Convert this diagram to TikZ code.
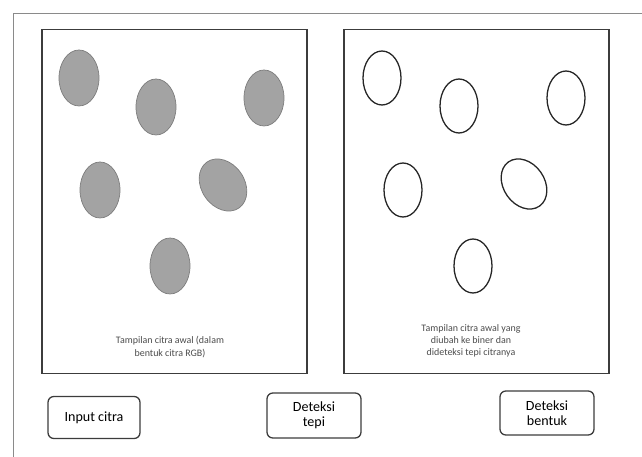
\documentclass[tikz,border=0pt]{standalone}
\usepackage{fontspec}
\setmainfont{Carlito}
\usepackage{xcolor}
\usetikzlibrary{positioning}
\definecolor{Blob}{HTML}{A3A3A3}
\definecolor{BlobEdge}{HTML}{7C7C7C}
\definecolor{Frame}{HTML}{8A8A8A}
\definecolor{Panel}{HTML}{3C3C3C}

\begin{document}
\begin{tikzpicture}[
  x=0.03cm, y=-0.03cm,
  panel/.style={draw=Panel,line width=1.1pt,minimum width=265*0.03cm,
                minimum height=344*0.03cm,inner sep=0pt},
  btn/.style={draw=Panel,line width=1.1pt,rounded corners=5pt,fill=white,
              minimum width=92*0.03cm,minimum height=42*0.03cm,align=center,
              font=\fontsize{12}{12.5}\selectfont,inner sep=1pt},
  blob/.style={fill=Blob,draw=BlobEdge,line width=.6pt},
  ring/.style={draw=black!85,line width=1.1pt},
  captext/.style={font=\fontsize{8.5}{10.5}\selectfont,align=center,color=black!70}]

\useasboundingbox (0,0) rectangle (642,457);
\draw[Frame,line width=.6pt] (13,470) -- (13,13) -- (660,13);

% panels
\node[panel] (left) at (174.5,201.5) {};
\node[panel] (right) at (476.5,201.5) {};

% input image: filled blobs
\draw[blob] (79,78) ellipse (20 and 28);
\draw[blob] (156,107) ellipse (20 and 28);
\draw[blob] (264,98) ellipse (20 and 28);
\draw[blob] (100,190) ellipse (20 and 28);
\draw[blob,rotate around={35:(223,185)}] (223,185) ellipse (21.5 and 28);
\draw[blob] (170,266) ellipse (20 and 28);

% edge image: outlines
\draw[ring] (382,78) ellipse (19 and 27);
\draw[ring] (459,106) ellipse (19 and 27);
\draw[ring] (566,98) ellipse (19 and 27);
\draw[ring] (403,190) ellipse (19 and 27);
\draw[ring,rotate around={35:(524,184)}] (524,184) ellipse (20.5 and 27);
\draw[ring] (473,266) ellipse (19 and 27);

\node[captext] (capl) at (170,347) {Tampilan citra awal (dalam\\bentuk citra RGB)};
\node[captext] (capr) at (471,341) {Tampilan citra awal yang\\diubah ke biner dan\\dideteksi tepi citranya};

% steps
\node[btn] (inp) at (94,417.5) {Input citra};
\node[btn,minimum width=94*0.03cm,minimum height=45*0.03cm] (tepi) at (314,415.5) {Deteksi\\tepi};
\node[btn,minimum width=94*0.03cm,minimum height=44*0.03cm] (bentuk) at (547,413) {Deteksi\\bentuk};
\end{tikzpicture}
\end{document}
